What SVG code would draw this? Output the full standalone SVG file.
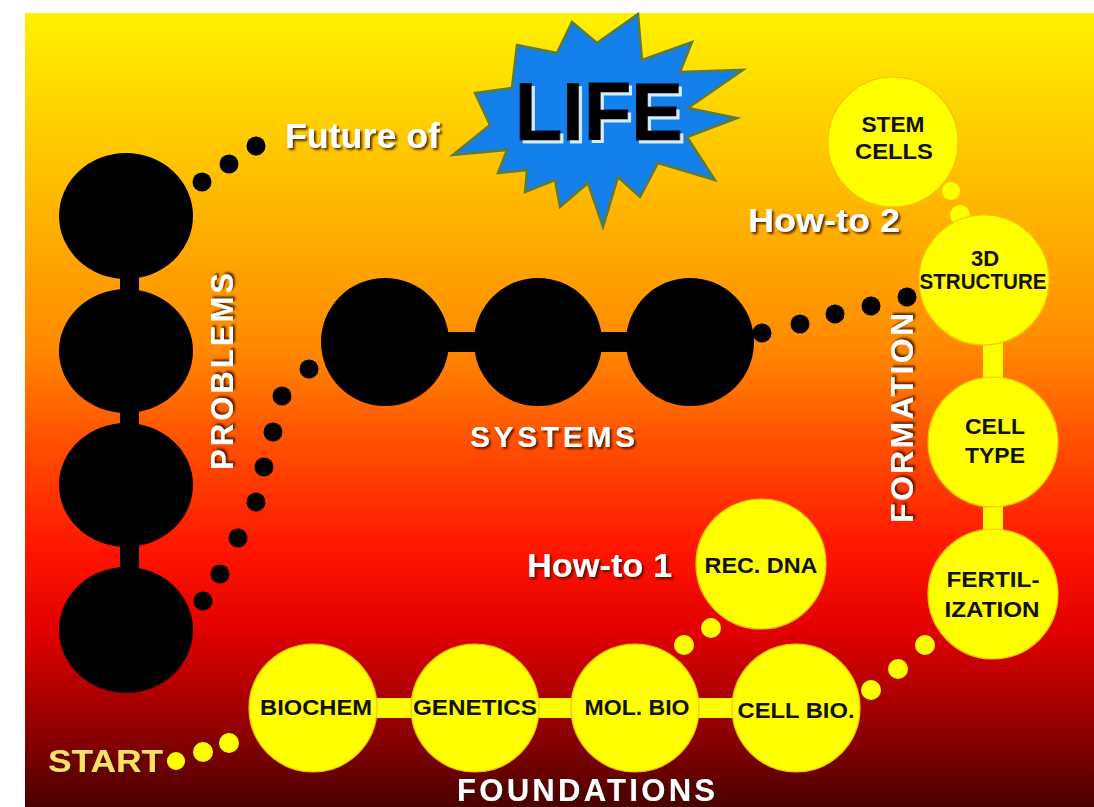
<svg xmlns="http://www.w3.org/2000/svg" width="1094" height="807" viewBox="0 0 1094 807">
<defs>
<linearGradient id="bg" x1="0" y1="0" x2="0" y2="1">
<stop offset="0" stop-color="#FFF200"/>
<stop offset="0.15" stop-color="#FFCC00"/>
<stop offset="0.30" stop-color="#FFA800"/>
<stop offset="0.42" stop-color="#FF8A00"/>
<stop offset="0.55" stop-color="#FF4C00"/>
<stop offset="0.68" stop-color="#FF1400"/>
<stop offset="0.78" stop-color="#E00000"/>
<stop offset="0.88" stop-color="#A00000"/>
<stop offset="1" stop-color="#4A0000"/>
</linearGradient>
<filter id="shadow" x="-10%" y="-20%" width="130%" height="150%">
<feDropShadow dx="2" dy="2" stdDeviation="1" flood-color="#3A0E00" flood-opacity="0.85"/>
</filter>
<filter id="emboss" x="-10%" y="-10%" width="130%" height="130%">
<feFlood flood-color="#D8ECFF" result="c"/>
<feComposite in="c" in2="SourceAlpha" operator="in" result="w"/>
<feOffset in="w" dx="3" dy="3" result="o"/>
<feMerge><feMergeNode in="o"/><feMergeNode in="SourceGraphic"/></feMerge>
</filter>
<style>
.blk{fill:#000}
.yel{fill:#FFFF00;stroke:#F2C400;stroke-width:1.2}
.ydot{fill:#FFFF00}
.bdot{fill:#000}
.lbl{font-family:"Liberation Sans",Arial,sans-serif;font-weight:bold;fill:#FFFFFF;filter:url(#shadow)}
.nt{font-family:"Liberation Sans",Arial,sans-serif;font-weight:bold;fill:#111;text-anchor:middle;font-size:22px}
</style>
</defs>
<rect x="0" y="0" width="1094" height="807" fill="#FFFFFF"/>
<rect x="25" y="13" width="1069" height="794" fill="url(#bg)"/>

<g id="connectors">
<rect class="blk" x="120" y="262" width="19" height="46"/>
<rect class="blk" x="120" y="396" width="19" height="44"/>
<rect class="blk" x="120" y="530" width="19" height="56"/>
<rect class="blk" x="445" y="332" width="32" height="20"/>
<rect class="blk" x="598" y="332" width="32" height="20"/>
<rect class="ydot" x="372" y="698" width="44" height="20"/>
<rect class="ydot" x="534" y="698" width="42" height="20"/>
<rect class="ydot" x="694" y="698" width="44" height="20"/>
<rect class="ydot" x="983" y="338" width="20" height="48"/>
<rect class="ydot" x="983" y="498" width="20" height="38"/>
<circle class="bdot" cx="202" cy="182" r="9.5"/>
<circle class="bdot" cx="229" cy="164" r="9.5"/>
<circle class="bdot" cx="256" cy="146" r="9.5"/>
<circle class="bdot" cx="203" cy="601" r="9.5"/>
<circle class="bdot" cx="220" cy="574" r="9.5"/>
<circle class="bdot" cx="238" cy="538" r="9.5"/>
<circle class="bdot" cx="256" cy="502" r="9.5"/>
<circle class="bdot" cx="264" cy="467" r="9.5"/>
<circle class="bdot" cx="273" cy="432" r="9.5"/>
<circle class="bdot" cx="282" cy="396" r="9.5"/>
<circle class="bdot" cx="309" cy="369" r="9.5"/>
<circle class="bdot" cx="762" cy="333" r="9.5"/>
<circle class="bdot" cx="800" cy="324" r="9.5"/>
<circle class="bdot" cx="835" cy="314" r="9.5"/>
<circle class="bdot" cx="871" cy="306" r="9.5"/>
<circle class="bdot" cx="907" cy="297" r="9.5"/>
<circle class="ydot" cx="176" cy="761" r="9"/>
<circle class="ydot" cx="203" cy="752" r="10"/>
<circle class="ydot" cx="229" cy="743" r="10"/>
<circle class="ydot" cx="684" cy="645" r="10"/>
<circle class="ydot" cx="711" cy="628" r="10"/>
<circle class="ydot" cx="871" cy="690" r="10"/>
<circle class="ydot" cx="898" cy="669" r="10"/>
<circle class="ydot" cx="925" cy="645" r="10"/>
<circle class="ydot" cx="951" cy="191" r="9"/>
<circle class="ydot" cx="960" cy="215" r="10"/>
</g>

<g id="life">
<polygon points="638,14 642,60 692,42 680,72 743,70 688,108 737,118 687,137 715,180 658,163 640,197 618,177 603,227 588,183 560,207 555,180 525,192 527,170 498,173 507,150 453,155 490,125 475,93 512,88 517,45 557,53 572,22 597,43" fill="#1380EC" stroke="#5C7A3C" stroke-width="2.5" stroke-linejoin="miter"/>
<text x="515" y="140" font-family="'Liberation Sans',Arial,sans-serif" font-weight="bold" font-size="82" fill="#000" stroke="#000814" stroke-width="1" textLength="168" lengthAdjust="spacingAndGlyphs" filter="url(#emboss)">LIFE</text>
</g>
<g id="future-label"><text class="lbl" x="285" y="148" font-size="35" textLength="155" lengthAdjust="spacingAndGlyphs">Future of</text></g>

<g id="problem1"><ellipse class="blk" cx="126" cy="216" rx="67" ry="63"/></g>
<g id="problem2"><ellipse class="blk" cx="126" cy="351" rx="67" ry="62"/></g>
<g id="problem3"><ellipse class="blk" cx="126" cy="485" rx="67" ry="62"/></g>
<g id="problem4"><ellipse class="blk" cx="126" cy="630" rx="67" ry="63"/></g>
<g id="problems-label"><text class="lbl" transform="translate(233,470) rotate(-90)" x="0" y="0" font-size="31" textLength="197" lengthAdjust="spacing">PROBLEMS</text></g>

<g id="system1"><circle class="blk" cx="385" cy="342" r="64"/></g>
<g id="system2"><circle class="blk" cx="538" cy="342" r="64"/></g>
<g id="system3"><circle class="blk" cx="690" cy="342" r="64"/></g>
<g id="systems-label"><text class="lbl" x="470" y="447" font-size="30" textLength="165" lengthAdjust="spacing">SYSTEMS</text></g>

<g id="stem-cells">
<circle class="yel" cx="893" cy="142" r="65"/>
<text class="nt" x="893" y="132" textLength="63" lengthAdjust="spacingAndGlyphs">STEM</text>
<text class="nt" x="894" y="159" textLength="78" lengthAdjust="spacingAndGlyphs">CELLS</text>
</g>
<g id="howto2-label"><text class="lbl" x="748" y="232" font-size="34" textLength="152" lengthAdjust="spacingAndGlyphs">How-to 2</text></g>
<g id="structure-3d">
<circle class="yel" cx="984" cy="280" r="65"/>
<text class="nt" x="985" y="266" font-size="21">3D</text>
<text class="nt" x="983" y="289" font-size="16" textLength="127" lengthAdjust="spacingAndGlyphs">STRUCTURE</text>
</g>
<g id="cell-type">
<circle class="yel" cx="993" cy="442" r="65"/>
<text class="nt" x="995" y="434" textLength="60" lengthAdjust="spacingAndGlyphs">CELL</text>
<text class="nt" x="995" y="463" textLength="60" lengthAdjust="spacingAndGlyphs">TYPE</text>
</g>
<g id="fertilization">
<circle class="yel" cx="993" cy="594" r="65"/>
<text class="nt" x="993" y="587" textLength="93" lengthAdjust="spacingAndGlyphs">FERTIL-</text>
<text class="nt" x="992" y="617" textLength="95" lengthAdjust="spacingAndGlyphs">IZATION</text>
</g>
<g id="formation-label"><text class="lbl" transform="translate(913,523) rotate(-90)" x="0" y="0" font-size="32" textLength="210" lengthAdjust="spacing">FORMATION</text></g>

<g id="rec-dna">
<circle class="yel" cx="761" cy="564" r="65"/>
<text class="nt" x="761" y="573" textLength="113" lengthAdjust="spacingAndGlyphs">REC. DNA</text>
</g>
<g id="howto1-label"><text class="lbl" x="527" y="577" font-size="34" textLength="145" lengthAdjust="spacingAndGlyphs">How-to 1</text></g>

<g id="biochem">
<circle class="yel" cx="313" cy="708" r="64"/>
<text class="nt" x="316" y="715" textLength="112" lengthAdjust="spacingAndGlyphs">BIOCHEM</text>
</g>
<g id="genetics">
<circle class="yel" cx="475" cy="708" r="64"/>
<text class="nt" x="475" y="715" textLength="124" lengthAdjust="spacingAndGlyphs">GENETICS</text>
</g>
<g id="mol-bio">
<circle class="yel" cx="635" cy="708" r="64"/>
<text class="nt" x="637" y="715" textLength="105" lengthAdjust="spacingAndGlyphs">MOL. BIO</text>
</g>
<g id="cell-bio">
<circle class="yel" cx="796" cy="708" r="64"/>
<text class="nt" x="796" y="718" textLength="117" lengthAdjust="spacingAndGlyphs">CELL BIO.</text>
</g>
<g id="start-label"><text class="lbl" x="48" y="772" font-size="32" style="fill:#FFE066" textLength="115" lengthAdjust="spacingAndGlyphs">START</text></g>
<g id="foundations-label"><text class="lbl" x="457" y="801" font-size="31" textLength="258" lengthAdjust="spacing">FOUNDATIONS</text></g>
</svg>
